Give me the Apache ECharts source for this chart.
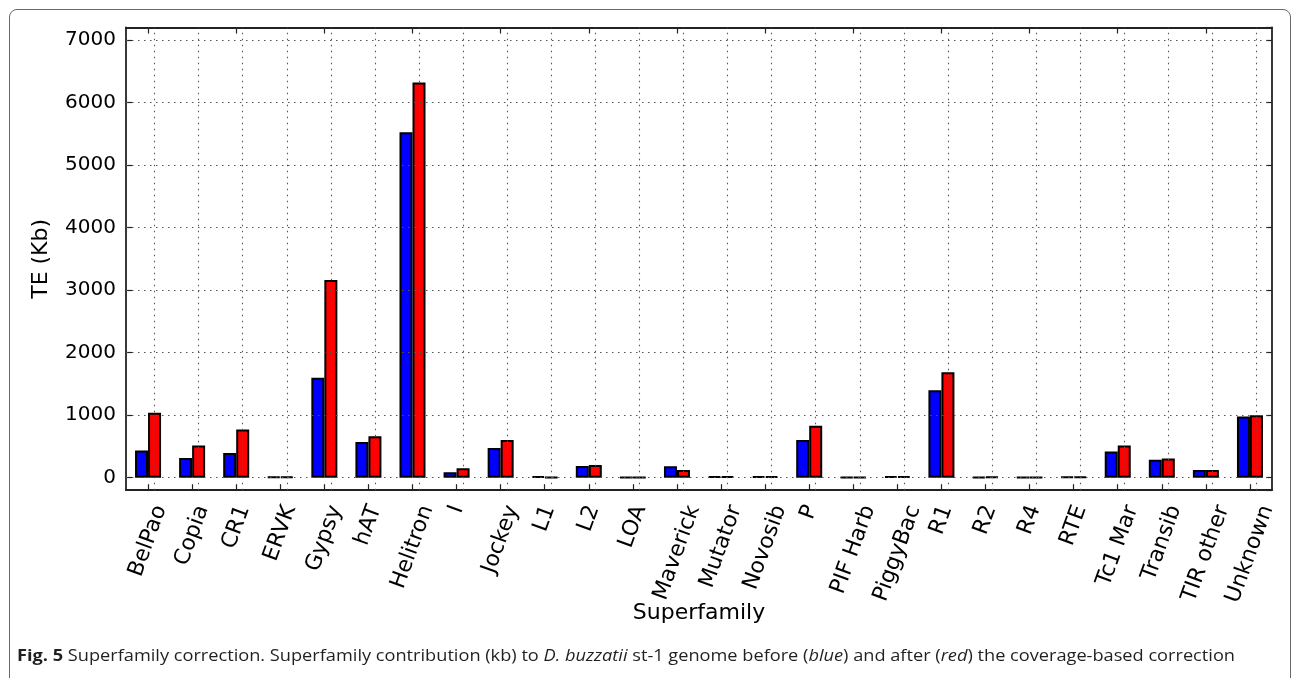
<!DOCTYPE html>
<html>
<head>
<meta charset="utf-8">
<script src="https://cdn.jsdelivr.net/npm/echarts@6/dist/echarts.min.js"></script>
<style>
    html, body { margin: 0; padding: 0; background: #fff; }
    #wrap { position: relative; width: 1293px; height: 678px; overflow: hidden; }
    #frame {
        position: absolute; left: 9px; top: 9px; width: 1282px; height: 720px;
        border: 1.5px solid #6a6a6a; border-radius: 8px; box-sizing: border-box;
    }
    #chart { position: absolute; left: 0; top: 0; width: 1293px; height: 678px; }
    #caption {
        position: absolute; left: 17px; top: 644px; white-space: nowrap;
        font-family: "Open Sans", "Noto Sans", sans-serif; font-size: 16px; color: #231f20;
        transform-origin: 0 0;
    }
</style>
</head>
<body>
<div id="wrap">
    <div id="frame"></div>
    <div id="chart"></div>
    <div id="caption"><b>Fig. 5</b> Superfamily correction. Superfamily contribution (kb) to <i>D. buzzatii</i> st-1 genome before (<i>blue</i>) and after (<i>red</i>) the coverage-based correction</div>
</div>
<script>
    // 超家族名称
    const categories = [
        "BelPao", "Copia", "CR1", "ERVK", "Gypsy", "hAT", "Helitron", "I",
        "Jockey", "L1", "L2", "LOA", "Maverick", "Mutator", "Novosib", "P",
        "PIF Harb", "PiggyBac", "R1", "R2", "R4", "RTE", "Tc1 Mar", "Transib",
        "TIR other", "Unknown"
    ];
    // 校正前 (blue)
    const beforeValues = [
        435, 313, 393, 15, 1600, 570, 5526, 87,
        474, 20, 189, 5, 184, 20, 20, 603,
        10, 20, 1397, 10, 5, 15, 419, 285,
        124, 979
    ];
    // 校正后 (red)
    const afterValues = [
        1039, 516, 769, 15, 3160, 661, 6320, 151,
        603, 5, 205, 5, 124, 20, 20, 829,
        10, 20, 1687, 15, 5, 15, 516, 306,
        124, 1000
    ];
    const yTicks = [0, 1000, 2000, 3000, 4000, 5000, 6000, 7000];

    const FONT = '"DejaVu Sans", sans-serif';
    const ANGLE = 70;

    // matplotlib 的旋转标签按包围盒居中，这里用 rich 的 padding 模拟
    const measure = document.createElement("canvas").getContext("2d");
    measure.font = '22px "DejaVu Sans"';
    const rad = ANGLE * Math.PI / 180;
    let labelRich = {};
    categories.forEach((name, i) => {
        let w = measure.measureText(name).width;
        labelRich["l" + i] = {
            fontSize: 22,
            fontFamily: FONT,
            color: "#000",
            padding: [w * Math.cos(rad) * Math.sin(rad), w * Math.sin(rad) * Math.sin(rad), 0, 0]
        };
    });

    const gridLine = { color: "#555", width: 1.1, type: [1.5, 4.5] };
    const spine = { show: true, onZero: false, lineStyle: { color: "#222", width: 1.8 } };
    const inTick = { show: true, inside: true, length: 6, lineStyle: { color: "#222", width: 1.2 } };

    let chart = echarts.init(document.getElementById("chart"), null, { renderer: "canvas" });
    chart.setOption({
        animation: false,
        textStyle: { fontFamily: FONT },
        grid: {
            left: 126, right: 21, top: 27.5, bottom: 187.8,
            containLabel: false, outerBoundsMode: "none"
        },
        xAxis: [
            {
                type: "category",
                data: categories,
                position: "bottom",
                axisLine: spine,
                axisTick: { ...inTick, alignWithLabel: true },
                axisLabel: {
                    interval: 0, rotate: ANGLE, fontSize: 22, color: "#000", margin: 16,
                    align: "center", verticalAlign: "middle", hideOverlap: false,
                    formatter: (value, index) => "{l" + index + "|" + value + "}",
                    rich: labelRich
                },
                splitLine: { show: false },
                name: "Superfamily",
                nameLocation: "middle",
                nameGap: 112,
                nameMoveOverlap: false,
                nameTextStyle: { fontSize: 22, color: "#000" }
            },
            {
                type: "category",
                data: categories,
                position: "top",
                axisLine: spine,
                axisTick: { ...inTick, alignWithLabel: true },
                axisLabel: { show: false },
                splitLine: { show: false }
            }
        ],
        yAxis: [
            {
                type: "value",
                position: "left",
                min: -200,
                max: 7200,
                splitNumber: 7,
                axisLine: spine,
                axisTick: inTick,
                axisLabel: {
                    fontSize: 20, color: "#000", margin: 10,
                    showMinLabel: false, showMaxLabel: false,
                    formatter: v => String(v)
                },
                splitLine: { show: false },
                name: "TE (Kb)",
                nameLocation: "middle",
                nameGap: 74,
                nameMoveOverlap: false,
                nameTextStyle: { fontSize: 22, color: "#000" }
            },
            {
                type: "value",
                position: "right",
                min: -200,
                max: 7200,
                splitNumber: 7,
                axisLine: spine,
                axisTick: inTick,
                axisLabel: { show: false },
                splitLine: { show: false }
            }
        ],
        series: [
            {
                name: "before",
                type: "bar",
                data: beforeValues,
                barWidth: 13,
                barGap: "0%",
                itemStyle: { color: "#0000ff", borderColor: "#000", borderWidth: 2 }
            },
            {
                name: "after",
                type: "bar",
                data: afterValues,
                barWidth: 13,
                barGap: "0%",
                itemStyle: { color: "#ff0000", borderColor: "#000", borderWidth: 2 },
                // 网格线画在柱子上面（与原图一致）
                markLine: {
                    silent: true,
                    symbol: ["none", "none"],
                    label: { show: false },
                    lineStyle: gridLine,
                    emphasis: { disabled: true },
                    data: [
                        ...categories.map(c => ({ xAxis: c })),
                        ...yTicks.map(v => ({ yAxis: v }))
                    ]
                }
            }
        ]
    });

    // 让图注宽度与原图一致
    const caption = document.getElementById("caption");
    const cw = caption.getBoundingClientRect().width;
    caption.style.transform = "scaleX(" + (1218 / cw) + ")";
</script>
</body>
</html>
